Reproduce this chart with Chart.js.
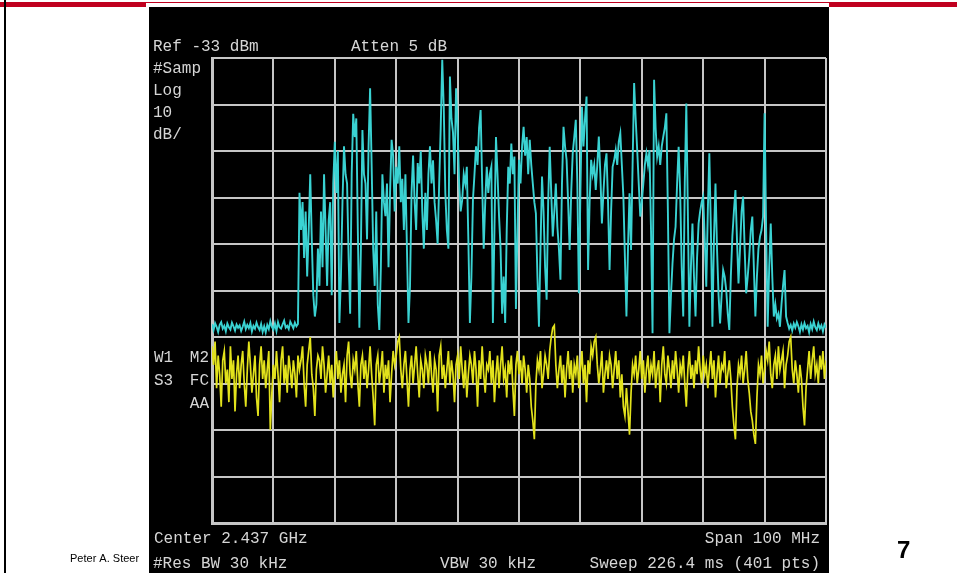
<!DOCTYPE html>
<html>
<head>
<meta charset="utf-8">
<script src="https://cdn.jsdelivr.net/npm/chart.js@4/dist/chart.umd.min.js"></script>
<style>
  html, body { margin: 0; padding: 0; background: #ffffff; }
  #wrap { position: relative; width: 957px; height: 573px; }
</style>
</head>
<body>
<div id="wrap"><canvas id="c" width="957" height="573"></canvas></div>
<script>
// ---- Data (dBm, 401 sweep points over a 100 MHz span) ----
const START_MHZ = 2387;
const STOP_MHZ = 2487;
const REF_DBM = -33;
const BOTTOM_DBM = -133;
const DIV_DB = 10;
const DIV_MHZ = 10;

const cyanTrace = [
-90.2,-91.5,-90.0,-90.8,-91.9,-90.4,-89.8,-91.2,-90.6,-91.8,
-90.1,-90.9,-91.4,-89.9,-90.7,-91.6,-90.3,-91.0,-90.5,-91.7,
-90.8,-89.7,-91.3,-90.4,-91.1,-90.0,-91.8,-90.6,-91.2,-89.9,
-90.9,-91.5,-90.2,-91.9,-90.7,-92.0,-90.4,-91.3,-89.6,-90.8,
-91.4,-90.1,-91.7,-89.8,-90.9,-91.2,-90.3,-89.5,-91.0,-90.6,
-91.3,-89.7,-90.4,-91.1,-89.9,-90.7,-90.2,-62,-70,-64,
-76,-66,-80,-70,-58,-72,-84,-88.6,-86,-74,
-82,-66,-78,-58,-70,-82,-68,-64,-84,-60,
-51,-62,-53,-90,-80,-64,-52,-58,-60,-76,
-88,-58,-45,-50,-46,-70,-91,-74,-48.5,-58,
-60,-72,-52,-39.5,-56,-74,-82,-66,-86,-91.5,
-78,-58,-64,-67,-60,-78,-62,-50.6,-54,-66,
-56.4,-60,-52,-64,-59,-70,-58,-74,-90,-82,
-62,-54,-64,-70,-55.6,-60,-53,-66,-74,-62,
-70,-58,-52,-60,-55,-64,-68,-73,-60,-48,
-33.4,-44,-62,-70,-74,-37,-46,-49,-58,-39.5,
-48,-60,-66,-63.5,-58,-60,-56.4,-72,-90,-80,
-63.5,-58,-52,-56,-48,-44.2,-60,-74,-64,-56.4,
-62,-58,-56.4,-90,-70,-50,-58,-67,-74,-88,
-80,-90,-70,-56.4,-60,-51.4,-58,-54.2,-87,-70,
-54.9,-60,-52,-47.8,-54,-50,-58,-50.6,-56,-60,
-64,-66.4,-80,-90.8,-74,-58.5,-66,-78,-85,-64,
-52.1,-62,-71.4,-66,-60,-69.3,-74,-80.7,-60,-47.8,
-52,-54.9,-64,-74.3,-62,-53.5,-50,-46.3,-60,-83.6,
-62,-43.5,-52,-46,-41.3,-78.6,-64,-54.9,-58,-56,
-61.4,-56,-49.9,-58,-68.6,-62,-56,-53.5,-64,-78.6,
-66,-56.4,-55,-52.8,-56,-51,-49.2,-56,-62.8,-76,
-88.6,-74,-62.1,-74.3,-56,-38.4,-46,-52.8,-60,-67.1,
-64,-60,-56,-53.5,-56,-52.8,-70,-92.2,-37.7,-48,
-54.2,-52,-56,-52,-49.9,-48,-44.9,-66,-92.2,-84,
-77.2,-72,-69.3,-60,-52.1,-62,-78,-88.6,-60,-42.8,
-66,-90.8,-78,-68.6,-80,-88.6,-76,-68.6,-66,-64,
-62.8,-72,-82.2,-66,-53.5,-70,-90.8,-72,-60,-74,
-84,-90.1,-84,-78.6,-80,-82.9,-88,-91.5,-80,-71.4,
-66,-61.4,-72,-81.5,-74,-66,-62.8,-74,-83.6,-80,
-75.7,-70,-67.1,-78,-88.6,-80,-74,-71.4,-70,-67.1,
-44.9,-70,-90.8,-78,-68.6,-80,-88.6,-86,-89,-88,
-90.8,-86,-82,-78.6,-88.6,-90,-91.2,-90.4,-91.6,-90.1,
-91.0,-89.8,-90.7,-91.9,-90.3,-91.4,-90.0,-91.1,-90.6,-92.0,
-90.2,-91.3,-89.7,-90.9,-91.5,-90.1,-91.2,-90.5,-91.8,-90.3,
-91.0
];

const yellowTrace = [
-95,-99,-94,-104,-97,-101,-108,-98,-96,-103,-100,-107,-95,-102,-98,-109,-101,-97,-104,-99,
-96,-103,-108,-100,-94,-99,-105,-101,-97,-106,-110,-99,-95,-102,-98,-104,-100,-96,-113,-105,
-99,-102,-96,-101,-107,-98,-95,-103,-99,-105,-97,-100,-104,-98,-101,-106,-97,-100,-98,-95,
-103,-108,-99,-96,-93,-101,-104,-110,-100,-97,-98,-102,-95,-99,-105,-101,-97,-103,-99,-106,
-100,-96,-102,-98,-105,-101,-99,-107,-97,-94,-101,-104,-98,-100,-96,-103,-108,-99,-97,-102,
-98,-104,-100,-95,-101,-106,-112,-99,-97,-103,-100,-96,-105,-99,-102,-98,-107,-101,-96,-99,
-97,-94,-93,-100,-104,-99,-96,-102,-108,-100,-97,-103,-99,-95,-101,-106,-98,-100,-104,-97,
-99,-103,-96,-101,-105,-98,-100,-109,-97,-95,-102,-99,-104,-100,-96,-103,-98,-101,-107,-99,
-97,-102,-95,-100,-104,-98,-106,-101,-97,-99,-103,-96,-100,-108,-98,-102,-95,-101,-105,-99,
-100,-96,-103,-98,-107,-101,-97,-104,-99,-95,-102,-100,-106,-98,-101,-97,-104,-110,-99,-96,
-101,-98,-103,-97,-100,-105,-99,-102,-108,-111,-115,-103,-98,-100,-96,-104,-101,-97,-99,-102,
-96,-93,-91,-90.5,-99,-104,-100,-97,-103,-99,-106,-100,-96,-102,-98,-105,-99,-101,-97,-104,
-100,-96,-103,-99,-107,-98,-101,-95,-97,-94,-93,-99,-103,-100,-96,-105,-101,-98,-102,-97,
-99,-104,-100,-96,-102,-98,-106,-101,-108,-110,-104,-109,-114,-105,-99,-101,-97,-103,-100,-96,
-102,-98,-105,-100,-97,-103,-99,-101,-96,-104,-100,-98,-107,-99,-95,-101,-103,-97,-100,-104,
-98,-102,-96,-100,-105,-99,-101,-97,-103,-108,-100,-96,-102,-99,-104,-98,-101,-95,-100,-103,
-97,-101,-99,-104,-100,-96,-102,-98,-106,-101,-97,-103,-99,-100,-96,-104,-101,-98,-102,-108,
-112,-115,-104,-99,-101,-97,-103,-100,-96,-102,-105,-109,-111,-114,-116,-106,-99,-101,-97,-103,
-100,-96,-98,-94,-101,-104,-99,-97,-102,-95,-100,-98,-96,-104,-99,-97,-94,-93,-100,-103,
-98,-101,-105,-99,-102,-108,-112,-104,-100,-96,-102,-98,-95,-101,-99,-103,-97,-100,-96,-102,
-98
];

const headerLabels = ["Ref -33 dBm", "Atten 5 dB"];
const sideLabels = ["#Samp", "Log", "10", "dB/"];
const footerLeft = ["Center 2.437 GHz", "#Res BW 30 kHz"];
const footerMid = "VBW 30 kHz";
const footerRight = ["Span 100 MHz", "Sweep 226.4 ms (401 pts)"];

// frequency of each sweep point
const step = (STOP_MHZ - START_MHZ) / (cyanTrace.length - 1);
const freqs = cyanTrace.map((_, i) => START_MHZ + i * step);
const toXY = arr => arr.map((v, i) => ({ x: freqs[i], y: v }));

const MONO = '16px "Liberation Mono", "DejaVu Sans Mono", monospace';
const TXT = '#d6d6d6';

const pagePlugin = {
  id: 'page',
  beforeDraw(chart) {
    const ctx = chart.ctx;
    ctx.save();
    ctx.fillStyle = '#ffffff';
    ctx.fillRect(0, 0, 957, 573);
    // red header bars
    ctx.fillStyle = '#c0001f';
    ctx.fillRect(0, 2, 146, 5);
    ctx.fillRect(829, 2, 128, 5);
    ctx.fillRect(146, 2, 683, 1);
    // left black rule
    ctx.fillStyle = '#000000';
    ctx.fillRect(4, 0, 2, 573);
    // analyzer screen
    ctx.fillRect(149, 7, 680, 566);
    ctx.restore();
  },
  afterDraw(chart) {
    const ctx = chart.ctx;
    ctx.save();
    ctx.fillStyle = TXT;
    ctx.font = MONO;
    ctx.textBaseline = 'alphabetic';
    ctx.textAlign = 'left';
    ctx.fillText(headerLabels[0], 153, 51);
    ctx.fillText(headerLabels[1], 351, 51);
    const sy = [73, 95, 117, 139];
    sideLabels.forEach((t, k) => ctx.fillText(t, 153, sy[k]));
    ctx.fillText("W1", 154, 362);
    ctx.fillText("S3", 154, 385);
    ctx.textAlign = 'right';
    ctx.fillText("M2", 209, 362);
    ctx.fillText("FC", 209, 385);
    ctx.fillText("AA", 209, 408);
    ctx.textAlign = 'left';
    ctx.fillText(footerLeft[0], 154, 543);
    ctx.fillText(footerLeft[1], 153, 568);
    ctx.fillText(footerMid, 440, 568);
    ctx.textAlign = 'right';
    ctx.fillText(footerRight[0], 820, 543);
    ctx.fillText(footerRight[1], 820, 568);
    // slide footer
    ctx.fillStyle = '#000000';
    ctx.font = '11px "Liberation Sans", Arial, sans-serif';
    ctx.textAlign = 'left';
    ctx.fillText("Peter A. Steer", 70, 562);
    ctx.font = 'bold 24px "Liberation Sans", Arial, sans-serif';
    ctx.fillText("7", 897, 558);
    ctx.restore();
  }
};

const GRID = '#c6c6c6';

new Chart(document.getElementById('c'), {
  type: 'line',
  data: {
    datasets: [
      { label: 'Trace 2', data: toXY(yellowTrace), borderColor: '#e2e21c', borderWidth: 1.7,
        pointRadius: 0, tension: 0, fill: false },
      { label: 'Trace 1', data: toXY(cyanTrace), borderColor: '#3ad2d2', borderWidth: 1.9,
        pointRadius: 0, tension: 0, fill: false }
    ]
  },
  options: {
    responsive: false,
    animation: false,
    devicePixelRatio: 1,
    layout: { padding: { left: 212, right: 131, top: 58, bottom: 50 } },
    plugins: { legend: { display: false }, tooltip: { enabled: false } },
    scales: {
      x: {
        type: 'linear', min: START_MHZ, max: STOP_MHZ,
        ticks: { display: false, stepSize: DIV_MHZ },
        grid: { color: GRID, lineWidth: 2, drawTicks: false },
        border: { color: GRID, width: 3 }
      },
      y: {
        type: 'linear', min: BOTTOM_DBM, max: REF_DBM,
        ticks: { display: false, stepSize: DIV_DB },
        grid: { color: GRID, lineWidth: 2, drawTicks: false },
        border: { color: GRID, width: 3 }
      }
    }
  },
  plugins: [pagePlugin]
});
</script>
</body>
</html>
